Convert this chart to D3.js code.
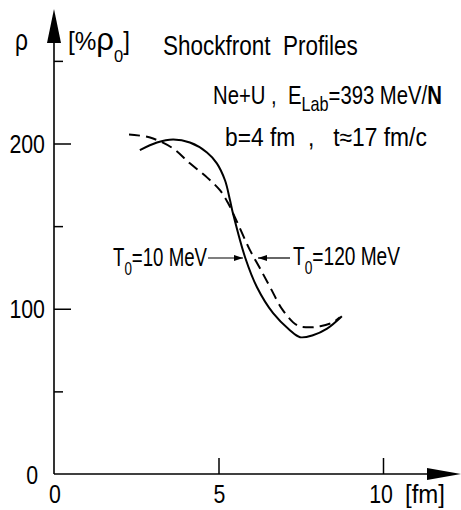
<!DOCTYPE html>
<html>
<head>
<meta charset="utf-8">
<script src="https://cdn.jsdelivr.net/npm/d3@7"></script>
<style>
  html, body { margin: 0; padding: 0; background: #fff; }
  svg { display: block; }
  text { font-family: "Liberation Sans", Arial, sans-serif; fill: #000; white-space: pre; }
</style>
</head>
<body>
<svg id="chart" width="461" height="510"></svg>
<script>
// ---------- data ----------
const xTicks = [5, 10];
const xTickLabels = ["0", "5", "10"];
const xLabelValues = [0, 5, 10];
const yMajorTicks = [100, 200];
const yMinorTicks = [50, 150, 250];
const yTickLabels = ["0", "100", "200"];
const yLabelValues = [0, 100, 200];

// T0 = 10 MeV (solid)
const solidX = [2.61, 3.13, 3.62, 4.13, 4.65, 4.95, 5.20, 5.35, 5.44, 5.81, 6.17, 6.66, 7.17, 7.48, 7.87, 8.30, 8.75];
const solidY = [196, 200.6, 202.4, 200.6, 194.6, 188, 177.6, 165.6, 157.7, 131, 113, 97.3, 87, 82.8, 84, 88, 95.5];
// T0 = 120 MeV (dashed)
const dashX = [2.28, 2.92, 3.62, 4.13, 4.65, 5.05, 5.29, 5.50, 5.96, 6.26, 6.57, 6.96, 7.39, 7.69, 8.09, 8.48, 8.69];
const dashY = [205.4, 203.6, 197, 188, 179.5, 171.6, 164, 155.3, 135.3, 124.5, 113, 99, 90, 88.8, 89.4, 91.8, 94.9];

// ---------- setup ----------
const svg = d3.select("#chart");
const x = d3.scaleLinear().domain([0, 10]).range([54, 383]);
const y = d3.scaleLinear().domain([0, 200]).range([474, 143.5]);

// text helper: parts [{t, dy(abs offset), size, bold}]
function label(px, py, parts, size, opts = {}) {
  const t = svg.append("text").attr("font-size", size);
  let cur = 0;
  parts.forEach(p => {
    const s = t.append("tspan").text(p.t);
    const off = p.dy || 0;
    if (off !== cur) { s.attr("dy", off - cur); cur = off; }
    if (p.size) s.attr("font-size", p.size);
    if (p.bold) s.attr("font-weight", "bold");
  });
  const w = t.node().getComputedTextLength();
  const sx = opts.width ? opts.width / w : (opts.sx || 0.8);
  let x0 = px;
  if (opts.anchor === "end") x0 = px - w * sx;
  else if (opts.anchor === "middle") x0 = px - w * sx / 2;
  t.attr("transform", `translate(${x0},${py}) scale(${sx},1)`);
  return t;
}

// ---------- axes ----------
const axisG = svg.append("g");
// y axis line
axisG.append("line").attr("x1", x(0)).attr("x2", x(0)).attr("y1", y(0)).attr("y2", 40)
  .attr("stroke", "#000").attr("stroke-width", 1.6);
// y arrow
axisG.append("path").attr("d", `M${x(0)},9 L${x(0) - 7},43 L${x(0) + 7},43 Z`).attr("fill", "#000");
// x axis line
axisG.append("line").attr("x1", x(0)).attr("x2", 430).attr("y1", y(0)).attr("y2", y(0))
  .attr("stroke", "#000").attr("stroke-width", 1.6);
// x arrow
axisG.append("path").attr("d", `M461,${y(0)} L427,${y(0) - 6} L427,${y(0) + 6} Z`).attr("fill", "#000");

// y ticks via d3 axes (pointing inward)
const yMaj = svg.append("g").attr("transform", `translate(${x(0)},0)`)
  .call(d3.axisLeft(y).tickValues(yMajorTicks).tickSize(-17).tickFormat(""));
const yMin = svg.append("g").attr("transform", `translate(${x(0)},0)`)
  .call(d3.axisLeft(y).tickValues(yMinorTicks).tickSize(-9).tickFormat(""));
const xAx = svg.append("g").attr("transform", `translate(0,${y(0)})`)
  .call(d3.axisBottom(x).tickValues(xTicks).tickSize(-16).tickFormat(""));
[yMaj, yMin, xAx].forEach(g => {
  g.select(".domain").remove();
  g.selectAll(".tick line").attr("stroke", "#000").attr("stroke-width", 1.5);
});

// tick labels
yLabelValues.forEach((v, i) => {
  const right = v === 0 ? 38 : 45;
  label(right, y(v) + 9.5, [{ t: yTickLabels[i] }], 26, { anchor: "end", sx: 0.82 });
});
xLabelValues.forEach((v, i) => {
  label(x(v) + (v === 10 ? -2 : 1), 503, [{ t: xTickLabels[i] }], 26, { anchor: "middle", sx: 0.82 });
});
label(405, 503, [{ t: "[fm]" }], 26, { width: 40 });

// ---------- curves ----------
const solidData = solidX.map((d, i) => [d, solidY[i]]);
const dashData = dashX.map((d, i) => [d, dashY[i]]);
const line = d3.line().x(d => x(d[0])).y(d => y(d[1])).curve(d3.curveCatmullRom.alpha(0.5));

svg.append("path").datum(solidData).attr("d", line)
  .attr("fill", "none").attr("stroke", "#000").attr("stroke-width", 2);
svg.append("path").datum(dashData).attr("d", line)
  .attr("fill", "none").attr("stroke", "#000").attr("stroke-width", 2)
  .attr("stroke-dasharray", "11,6");

// ---------- header texts ----------
label(15, 50, [{ t: "ρ" }], 30, { width: 13 });
label(68, 50, [{ t: "[%" }, { t: "ρ", size: 32 }, { t: "0", dy: 12, size: 17 }, { t: "]" }], 25, { width: 62 });
label(163, 55, [{ t: "Shockfront  Profiles" }], 28, { width: 195 });
label(213, 104, [
  { t: "Ne+U ,  E" }, { t: "Lab", dy: 7, size: 20 }, { t: "=393 MeV/" }, { t: "N", bold: true }
], 25, { width: 229 });
label(225, 146, [{ t: "b=4 fm  ,   t≈17 fm/c" }], 25, { width: 202 });

// ---------- annotations ----------
const annY = 258;
label(113, 266, [{ t: "T" }, { t: "0", dy: 9, size: 18 }, { t: "=10 MeV" }], 25, { width: 94 });
label(293, 265, [{ t: "T" }, { t: "0", dy: 9, size: 18 }, { t: "=120 MeV" }], 25, { width: 107 });

function arrow(x1, x2, yy) {
  // line from x1 to tip x2
  svg.append("line").attr("x1", x1).attr("x2", x2).attr("y1", yy).attr("y2", yy)
    .attr("stroke", "#000").attr("stroke-width", 1.2);
  const dir = x2 > x1 ? -1 : 1;
  svg.append("path").attr("d", `M${x2},${yy} L${x2 + dir * 9},${yy - 3} L${x2 + dir * 9},${yy + 3} Z`)
    .attr("fill", "#000");
}
arrow(208, 243, annY);
arrow(290, 258, annY);
</script>
</body>
</html>
